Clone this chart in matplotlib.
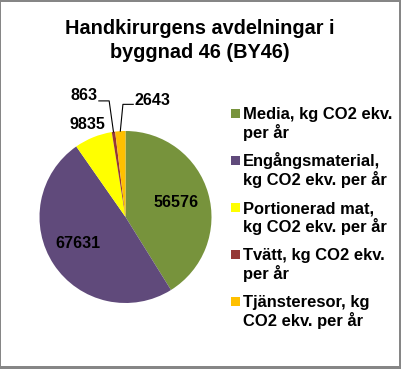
import numpy as np
import matplotlib
matplotlib.use("Agg")
import matplotlib.pyplot as plt
from matplotlib.patches import Rectangle

title = "Handkirurgens avdelningar i\nbyggnad 46 (BY46)"
categories = ["Media, kg CO2 ekv.\nper år",
              "Engångsmaterial,\nkg CO2 ekv. per år",
              "Portionerad mat,\nkg CO2 ekv. per år",
              "Tvätt, kg CO2 ekv.\nper år",
              "Tjänsteresor, kg\nCO2 ekv. per år"]
values = [56576, 67631, 9835, 863, 2643]
colors = ["#77933C", "#604A7B", "#FFFF00", "#953735", "#FFC000"]

W, H = 402, 369
fig = plt.figure(figsize=(W / 100, H / 100), dpi=100)
FONT = "Liberation Sans"

# pie axes: center (125.5, 217) px, radius 86 px
cx, cy, R = 125.5, 217.0, 86.0
ax = fig.add_axes([(cx - R) / W, 1 - (cy + R) / H, 2 * R / W, 2 * R / H])
wedges, _ = ax.pie(values, colors=colors, startangle=90, counterclock=False,
                   radius=1.0, wedgeprops=dict(linewidth=0))
ax.set_xlim(-1, 1)
ax.set_ylim(-1, 1)
ax.set_aspect("equal")
ax.axis("off")

lab_kw = dict(fontsize=11.6, fontweight="bold", family=FONT, color="black")

def mid(w):
    return np.deg2rad((w.theta1 + w.theta2) / 2)

# inside labels
for i, r in [(0, 0.61), (1, 0.63)]:
    a = mid(wedges[i])
    if i == 1:
        a -= np.deg2rad(4)
    ax.text(r * np.cos(a), r * np.sin(a), str(values[i]), ha="center", va="center",
            clip_on=False, **lab_kw)

# 9835 outside
a = mid(wedges[2])
ax.text(1.17 * np.cos(a), 1.07, str(values[2]), ha="center", va="center", clip_on=False, **lab_kw)

# 863 with leader
a = mid(wedges[3])
ex, ey = np.cos(a), np.sin(a)
ax.plot([-0.31, -0.19, ex], [1.35, 1.35, ey], color="black", lw=0.8, clip_on=False)
ax.text(-0.33, 1.41, str(values[3]), ha="right", va="center", clip_on=False, **lab_kw)

# 2643 with leader
a = mid(wedges[4])
ex, ey = np.cos(a), np.sin(a)
ax.plot([ex, -0.03, 0.09], [ey, 1.31, 1.31], color="black", lw=0.8, clip_on=False)
ax.text(0.10, 1.36, str(values[4]), ha="left", va="center", clip_on=False, **lab_kw)

# title
fig.text(200 / W, 1 - 29 / H, "Handkirurgens avdelningar i", ha="center", va="center",
         fontsize=14.3, fontweight="bold", family=FONT)
fig.text(200 / W, 1 - 53 / H, "byggnad 46 (BY46)", ha="center", va="center",
         fontsize=14.3, fontweight="bold", family=FONT)

# legend
base0 = 119.3
step = 47.0
for i, (cat, col) in enumerate(zip(categories, colors)):
    b = base0 + i * step
    lines = cat.split("\n")
    for j, ln in enumerate(lines):
        fig.text(243 / W, 1 - (b + j * 19) / H, ln, ha="left", va="baseline",
                 fontsize=11.9, fontweight="bold", family=FONT)
    sq = 8.5
    fig.add_artist(Rectangle((231.5 / W, 1 - (b - 1.5) / H), sq / W, sq / H,
                             transform=fig.transFigure, facecolor=col, edgecolor="none"))

# border
g = "#868686"
fig.add_artist(Rectangle((0, 0), 1.5 / W, 1, transform=fig.transFigure, facecolor=g, edgecolor="none"))
fig.add_artist(Rectangle((0, 1 - 1.5 / H), 1, 1.5 / H, transform=fig.transFigure, facecolor=g, edgecolor="none"))
fig.add_artist(Rectangle((1 - 3 / W, 0), 3 / W, 1, transform=fig.transFigure, facecolor=g, edgecolor="none"))
fig.add_artist(Rectangle((0, 0), 1, 3 / H, transform=fig.transFigure, facecolor=g, edgecolor="none"))

fig.savefig("out.png", dpi=100)
